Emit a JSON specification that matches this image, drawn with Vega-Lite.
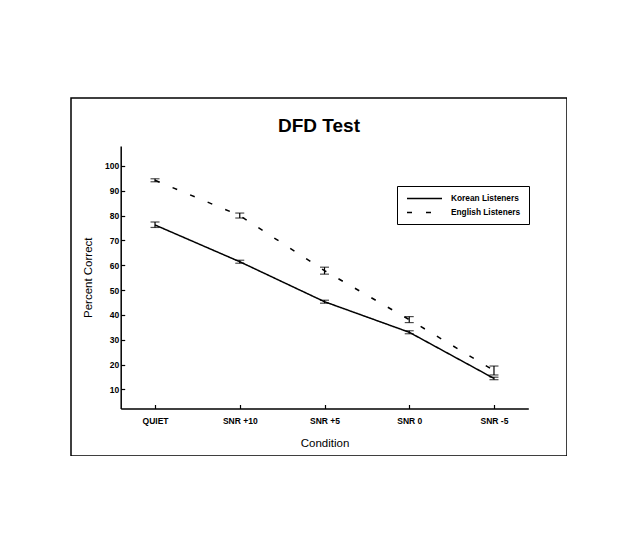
{
  "$schema": "https://vega.github.io/schema/vega-lite/v6.json",
  "width": 496,
  "height": 358,
  "autosize": {"type": "none"},
  "padding": {"left": 71, "top": 98, "right": 0, "bottom": 0},
  "background": "white",
  "title": {
    "text": "DFD Test",
    "font": "Liberation Sans",
    "fontSize": 19,
    "fontWeight": "bold",
    "color": "black",
    "anchor": "middle",
    "frame": "group",
    "baseline": "middle",
    "offset": -47
  },
  "config": {
    "view": {"stroke": "black", "strokeWidth": 1.5},
    "font": "Liberation Sans",
    "axis": {
      "domainColor": "black",
      "domainWidth": 1.5,
      "tickColor": "black",
      "tickWidth": 1.2,
      "labelColor": "black",
      "labelFont": "Liberation Sans",
      "labelFontWeight": "bold",
      "labelFontSize": 8.5,
      "titleColor": "black",
      "titleFont": "Liberation Sans",
      "titleFontWeight": "normal",
      "titleFontSize": 11.5,
      "grid": false
    },
    "axisY": {
      "title": "Percent Correct",
      "values": [5, 10, 15, 20, 25, 30, 35, 40, 45, 50, 55, 60, 65, 70, 75, 80, 85, 90, 95, 100, 105],
      "labelExpr": "datum.value % 10 === 0 ? datum.label : ''",
      "offset": -49.7,
      "tickSize": -4,
      "labelPadding": 6,
      "titlePadding": 11
    }
  },
  "data": {
    "values": [
      {"condition": "QUIET", "group": "Korean Listeners", "mean": 76.2, "lo": 75.2, "hi": 77.4},
      {"condition": "SNR +10", "group": "Korean Listeners", "mean": 61.4, "lo": 60.8, "hi": 62.0},
      {"condition": "SNR +5", "group": "Korean Listeners", "mean": 45.3, "lo": 44.7, "hi": 45.9},
      {"condition": "SNR 0", "group": "Korean Listeners", "mean": 33.0, "lo": 32.4, "hi": 33.6},
      {"condition": "SNR -5", "group": "Korean Listeners", "mean": 14.4, "lo": 13.9, "hi": 14.9},
      {"condition": "QUIET", "group": "English Listeners", "mean": 94.2, "lo": 93.6, "hi": 94.8},
      {"condition": "SNR +10", "group": "English Listeners", "mean": 80.0, "lo": 79.0, "hi": 81.0},
      {"condition": "SNR +5", "group": "English Listeners", "mean": 57.8, "lo": 56.4, "hi": 59.2},
      {"condition": "SNR 0", "group": "English Listeners", "mean": 38.1, "lo": 36.9, "hi": 39.3},
      {"condition": "SNR -5", "group": "English Listeners", "mean": 17.6, "lo": 15.8, "hi": 19.4}
    ]
  },
  "encoding": {
    "x": {
      "field": "condition",
      "type": "ordinal",
      "sort": ["QUIET", "SNR +10", "SNR +5", "SNR 0", "SNR -5"],
      "scale": {"type": "point", "range": [49.7, 457.3], "padding": 0.405},
      "axis": {
        "title": "Condition",
        "labelAngle": 0,
        "offset": -47.5,
        "tickSize": -4,
        "labelPadding": 12,
        "titlePadding": 12
      }
    }
  },
  "layer": [
    {
      "mark": {"type": "line", "color": "black", "strokeWidth": 1.5},
      "encoding": {
        "y": {
          "field": "mean",
          "type": "quantitative",
          "title": "Percent Correct",
          "scale": {"domain": [2.3, 108], "range": [310.5, 48], "nice": false, "zero": false}
        },
        "strokeDash": {
          "field": "group",
          "type": "nominal",
          "scale": {"domain": ["Korean Listeners", "English Listeners"], "range": [[1, 0], [5, 14]]},
          "legend": {
            "title": null,
            "orient": "none",
            "legendX": 326,
            "legendY": 88,
            "symbolType": "M-5,0H5",
            "symbolSize": 49,
            "symbolOffset": 15,
            "symbolStrokeColor": "black",
            "symbolStrokeWidth": 1.5,
            "labelFont": "Liberation Sans",
            "labelFontWeight": "bold",
            "labelFontSize": 8.3,
            "labelColor": "black",
            "labelOffset": 22,
            "strokeColor": "black",
            "padding": 8,
            "rowPadding": 5,
            "fillColor": "white"
          }
        }
      }
    },
    {
      "mark": {"type": "rule", "color": "black", "strokeWidth": 1.2},
      "encoding": {
        "y": {"field": "lo", "type": "quantitative", "title": "Percent Correct"},
        "y2": {"field": "hi"}
      }
    },
    {
      "mark": {"type": "tick", "color": "black", "thickness": 1.2, "size": 9},
      "encoding": {"y": {"field": "lo", "type": "quantitative", "title": "Percent Correct"}}
    },
    {
      "mark": {"type": "tick", "color": "black", "thickness": 1.2, "size": 9},
      "encoding": {"y": {"field": "hi", "type": "quantitative", "title": "Percent Correct"}}
    }
  ]
}
